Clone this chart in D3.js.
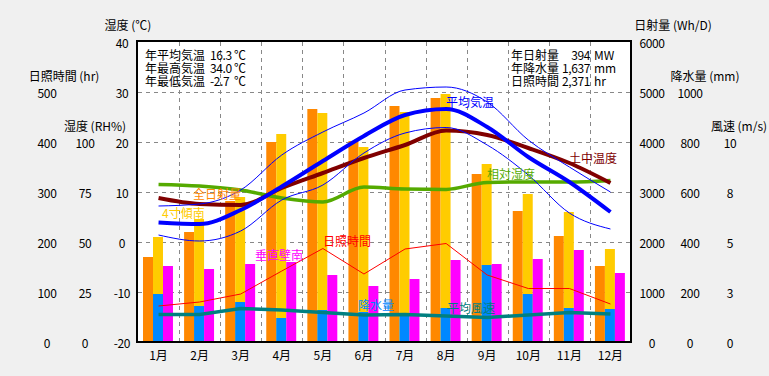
<!DOCTYPE html>
<html>
<head>
<meta charset="utf-8">
<script src="https://cdn.jsdelivr.net/npm/d3@7"></script>
<style>
  body { margin: 0; background: #f0f0f0; }
  text { font-family: "Noto Sans CJK JP", sans-serif; font-size: 12px; }
  .num { letter-spacing: -0.4px; }
</style>
</head>
<body>
<div id="chart"></div>
<script>
const months = ["1月","2月","3月","4月","5月","6月","7月","8月","9月","10月","11月","12月"];

// 日射量 (Wh/D)
const radTotal  = [1700, 2200, 2820, 4000, 4660, 4020, 4720, 4880, 3360, 2620, 2120, 1520]; // 全日射量
const radTilt   = [2100, 2460, 2900, 4160, 4580, 3900, 4600, 4960, 3560, 2960, 2600, 1860]; // 4寸傾南
const radWall   = [1520, 1460, 1560, 1600, 1340, 1120, 1260, 1640, 1560, 1660, 1840, 1380]; // 垂直壁南
// 降水量 (mm)
const precip    = [192, 144, 160, 96, 128, 120, 110, 136, 308, 192, 136, 132];
// 気温 (℃)
const tempAvg   = [3.9, 3.6, 6.4, 11.1, 16.2, 21.2, 25.4, 26.6, 23.0, 17.0, 12.0, 6.0];
const tempMax   = [7.2, 7.6, 10.4, 17.4, 22.0, 25.8, 30.4, 31.0, 28.0, 20.4, 15.0, 10.0];
const tempMin   = [1.4, 0.2, 2.2, 8.4, 11.4, 17.8, 21.8, 22.9, 19.4, 13.4, 5.8, 2.6];
const soilTemp  = [8.8, 7.6, 7.4, 10.8, 13.8, 16.8, 19.4, 22.3, 21.4, 18.8, 15.8, 11.8];
// 相対湿度 (RH%)
const humidity  = [78.8, 78, 76, 72, 70, 77.5, 76.5, 76.3, 79.8, 80, 80, 80.8];
// 日照時間 (hr)
const sunshine  = [72, 80, 96, 142, 187, 136, 186, 197, 134, 107, 107, 76];
// 平均風速 (m/s)
const wind      = [1.38, 1.38, 1.68, 1.6, 1.48, 1.35, 1.38, 1.3, 1.23, 1.35, 1.48, 1.4];

const tempTicks = [-20, -10, 0, 10, 20, 30, 40];
const sunTicks  = [0, 100, 200, 300, 400, 500];
const rhTicks   = [0, 25, 50, 75, 100];
const radTicks  = [0, 1000, 2000, 3000, 4000, 5000, 6000];
const preTicks  = [0, 200, 400, 600, 800, 1000];
const windTicks = [0, 2.5, 5, 7.5, 10];

const summaryLeft = [["年平均気温", "16.3", "℃"], ["年最高気温", "34.0", "℃"], ["年最低気温", "-2.7", "℃"]];
const summaryRight = [["年日射量", "394", "MW"], ["年降水量", "1,637", "mm"], ["日照時間", "2,371", "hr"]];

const W = 769, H = 376;
const plot = { left: 138, right: 631, top: 42, bottom: 342 };

const svg = d3.select("#chart").append("svg")
    .attr("width", W)
    .attr("height", H);

svg.append("rect").attr("width", W).attr("height", H).attr("fill", "#f0f0f0");
svg.append("rect")
    .attr("x", plot.left).attr("y", plot.top)
    .attr("width", plot.right - plot.left).attr("height", plot.bottom - plot.top)
    .attr("fill", "white");

const x = d3.scaleBand().domain(months).range([plot.left, plot.right]);
const bw = x.bandwidth();
const yT    = d3.scaleLinear().domain([-20, 40]).range([plot.bottom, plot.top]);
const ySun  = d3.scaleLinear().domain([0, 600]).range([plot.bottom, plot.top]);
const yRH   = d3.scaleLinear().domain([0, 150]).range([plot.bottom, plot.top]);
const yRad  = d3.scaleLinear().domain([0, 6000]).range([plot.bottom, plot.top]);
const yPre  = d3.scaleLinear().domain([0, 1200]).range([plot.bottom, plot.top]);
const yWind = d3.scaleLinear().domain([0, 15]).range([plot.bottom, plot.top]);

// grid
svg.selectAll(".hgrid")
    .data([-10, 0, 10, 20, 30])
    .enter().append("line")
    .attr("x1", plot.left).attr("x2", plot.right)
    .attr("y1", d => yT(d) + 0.5).attr("y2", d => yT(d) + 0.5)
    .attr("stroke", "#888").attr("stroke-dasharray", "4,4");
svg.selectAll(".vgrid")
    .data(months.slice(1))
    .enter().append("line")
    .attr("x1", d => Math.round(x(d)) + 0.5).attr("x2", d => Math.round(x(d)) + 0.5)
    .attr("y1", plot.top).attr("y2", plot.bottom)
    .attr("stroke", "#888").attr("stroke-dasharray", "4,4");

// bars
const off = bw * 0.122, barW = bw * 0.243;
function bars(values, scale, dx, color) {
    svg.selectAll(null)
        .data(values)
        .enter().append("rect")
        .attr("x", (d, i) => x(months[i]) + dx)
        .attr("y", d => scale(d))
        .attr("width", barW)
        .attr("height", d => plot.bottom - scale(d))
        .attr("fill", color);
}
bars(radTotal, yRad, off, "#ff8800");
bars(radTilt, yRad, off + barW, "#ffcc00");
bars(precip, yPre, off + barW, "#0088ff");
bars(radWall, yRad, off + barW * 2, "#ff00ff");

// lines
const cx = i => x(months[i]) + bw / 2;
function line(values, scale, color, width, curve) {
    svg.append("path")
        .datum(values)
        .attr("fill", "none")
        .attr("stroke", color)
        .attr("stroke-width", width)
        .attr("d", d3.line().x((d, i) => cx(i)).y(d => scale(d)).curve(curve));
}
line(sunshine, ySun, "#ff0000", 1, d3.curveLinear);
line(wind, yWind, "#008080", 3.5, d3.curveLinear);
line(humidity, yRH, "#55aa00", 3.5, d3.curveMonotoneX);
line(soilTemp, yT, "#800000", 4, d3.curveMonotoneX);
line(tempMax, yT, "#0000ff", 1, d3.curveMonotoneX);
line(tempMin, yT, "#0000ff", 1, d3.curveMonotoneX);
line(tempAvg, yT, "#0000ff", 4, d3.curveMonotoneX);

// series labels
const seriesLabels = [
    { text: "全日射量", x: 193, y: 193, color: "#ff8800" },
    { text: "4寸傾南", x: 162, y: 212, color: "#ffcc00" },
    { text: "垂直壁南", x: 255, y: 254, color: "#ff00ff" },
    { text: "日照時間", x: 323, y: 240, color: "#ff0000" },
    { text: "降水量", x: 358, y: 304, color: "#0088ff" },
    { text: "平均風速", x: 447, y: 307, color: "#008080" },
    { text: "平均気温", x: 446, y: 101, color: "#0000ff" },
    { text: "土中温度", x: 569, y: 157, color: "#800000" },
    { text: "相対湿度", x: 487, y: 173, color: "#55aa00" }
];
svg.selectAll(".slabel")
    .data(seriesLabels)
    .enter().append("text")
    .attr("x", d => d.x).attr("y", d => d.y)
    .attr("dominant-baseline", "central")
    .attr("fill", d => d.color)
    .text(d => d.text);

// frame
svg.append("rect")
    .attr("x", plot.left - 1).attr("y", plot.top - 1)
    .attr("width", plot.right - plot.left + 1).attr("height", plot.bottom - plot.top + 1)
    .attr("fill", "none").attr("stroke", "black").attr("stroke-width", 2);

// axes
function axisLabels(ticks, scale, xc, fmt) {
    svg.selectAll(null)
        .data(ticks)
        .enter().append("text")
        .attr("class", "num")
        .attr("x", xc).attr("y", d => scale(d))
        .attr("text-anchor", "middle")
        .attr("dominant-baseline", "central")
        .attr("fill", "black")
        .text(fmt);
}
axisLabels(tempTicks, yT, 122, d => d);
axisLabels(rhTicks, yRH, 85, d => d);
axisLabels(sunTicks, ySun, 47, d => d);
axisLabels(radTicks, yRad, 652, d => d);
axisLabels(preTicks, yPre, 690, d => d);
axisLabels(windTicks, yWind, 730, d => d3.format(".0f")(d));

const axisTitles = [
    { text: "湿度 (℃)", x: 128, y: 24 },
    { text: "日照時間 (hr)", x: 64, y: 75 },
    { text: "湿度 (RH%)", x: 95, y: 125 },
    { text: "日射量 (Wh/D)", x: 673, y: 24 },
    { text: "降水量 (mm)", x: 705, y: 75 },
    { text: "風速 (m/s)", x: 739, y: 125 }
];
svg.selectAll(".atitle")
    .data(axisTitles)
    .enter().append("text")
    .attr("x", d => d.x).attr("y", d => d.y)
    .attr("text-anchor", "middle")
    .attr("dominant-baseline", "central")
    .text(d => d.text);

// month labels
svg.selectAll(".mlabel")
    .data(months)
    .enter().append("text")
    .attr("x", d => x(d) + bw / 2).attr("y", 354)
    .attr("text-anchor", "middle")
    .attr("dominant-baseline", "central")
    .text(d => d);

// summary text
summaryLeft.forEach((r, i) => {
    const y = 54 + i * 13.2;
    svg.append("text").attr("x", 145).attr("y", y).attr("dominant-baseline", "central").text(r[0]);
    svg.append("text").attr("class", "num").attr("x", 210).attr("y", y).attr("dominant-baseline", "central").text(r[1]);
    svg.append("text").attr("x", 234).attr("y", y).attr("dominant-baseline", "central").text(r[2]);
});
summaryRight.forEach((r, i) => {
    const y = 54 + i * 13.2;
    svg.append("text").attr("x", 511).attr("y", y).attr("dominant-baseline", "central").text(r[0]);
    svg.append("text").attr("class", "num").attr("x", 590).attr("y", y).attr("text-anchor", "end").attr("dominant-baseline", "central").text(r[1]);
    svg.append("text").attr("x", 594).attr("y", y).attr("dominant-baseline", "central").text(r[2]);
});
</script>
</body>
</html>
